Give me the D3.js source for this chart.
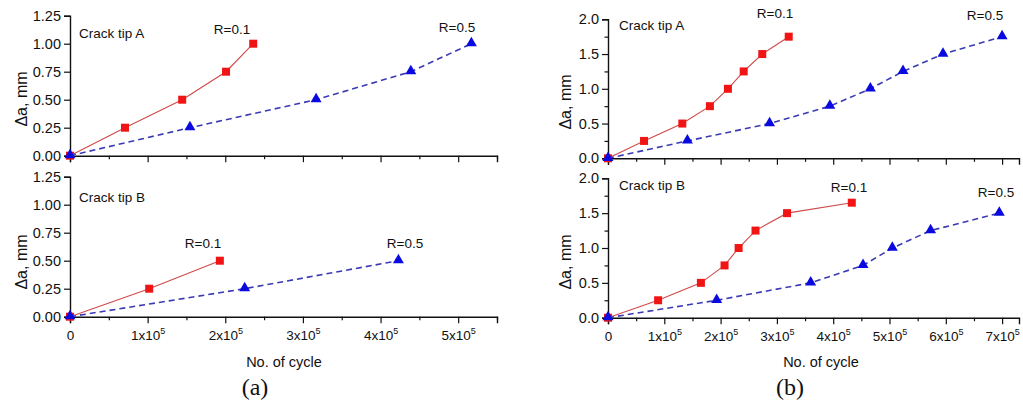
<!DOCTYPE html>
<html>
<head>
<meta charset="utf-8">
<script src="https://cdn.jsdelivr.net/npm/d3@7"></script>
<style>
  html, body { margin: 0; padding: 0; background: #fff; }
  svg { display: block; }
  text { font-family: Arial, "Liberation Sans", sans-serif; fill: #111; }
  text.caption { font-family: "Liberation Serif", "Times New Roman", serif; }
</style>
</head>
<body>
<svg id="chart" width="1023" height="412"></svg>
<script>
// ---- data: crack extension (mm) versus number of cycles ----
// (a) crack tip A
const aTipA_R01_cycles = [0, 70800, 144500, 201000, 236000];
const aTipA_R01_da     = [0, 0.25, 0.50, 0.75, 1.00];
const aTipA_R05_cycles = [0, 154500, 317000, 439000, 517000];
const aTipA_R05_da     = [0, 0.25, 0.50, 0.75, 1.00];
// (a) crack tip B
const aTipB_R01_cycles = [0, 102000, 193000];
const aTipB_R01_da     = [0, 0.25, 0.50];
const aTipB_R05_cycles = [0, 225000, 423000];
const aTipB_R05_da     = [0, 0.25, 0.50];
// (b) crack tip A
const bTipA_R01_cycles = [0, 64000, 132000, 181000, 213000, 241000, 274000, 321000];
const bTipA_R01_da     = [0, 0.25, 0.50, 0.75, 1.00, 1.25, 1.50, 1.75];
const bTipA_R05_cycles = [0, 141000, 287000, 394000, 466000, 524000, 595000, 700000];
const bTipA_R05_da     = [0, 0.25, 0.50, 0.75, 1.00, 1.25, 1.50, 1.75];
// (b) crack tip B
const bTipB_R01_cycles = [0, 89000, 165000, 207000, 232000, 262000, 318000, 433000];
const bTipB_R01_da     = [0, 0.25, 0.50, 0.75, 1.00, 1.25, 1.50, 1.65];
const bTipB_R05_cycles = [0, 193000, 360000, 453000, 505000, 573000, 695000];
const bTipB_R05_da     = [0, 0.25, 0.50, 0.75, 1.00, 1.25, 1.50];

// axis ticks
const aYTicks = [0, 0.25, 0.5, 0.75, 1.0, 1.25];
const bYTicks = [0, 0.5, 1.0, 1.5, 2.0];
const bYMinor = [0.25, 0.75, 1.25, 1.75];
const aXTicks = [0, 1e5, 2e5, 3e5, 4e5, 5e5];
const bXTicks = [0, 1e5, 2e5, 3e5, 4e5, 5e5, 6e5, 7e5];
const aXMinor = [0.5e5, 1.5e5, 2.5e5, 3.5e5, 4.5e5, 5.5e5];
const bXMinor = [0.5e5, 1.5e5, 2.5e5, 3.5e5, 4.5e5, 5.5e5, 6.5e5];

// series labels and panel titles
const tipNames = ["Crack tip A", "Crack tip B"];
const seriesNames = ["R=0.1", "R=0.5"];
const yTitle = "\u0394a, mm";
const xTitle = "No. of cycle";
const subCaptions = ["(a)", "(b)"];

const zip = (xs, ys) => xs.map((x, i) => ({ x, y: ys[i] }));

// ---- panel layout ----
const panels = [
  { x0: 70, x1: 497, yTop: 15.7, yBot: 155.7, xMax: 5.5e5, yMax: 1.25,
    xTicks: aXTicks, xMinor: aXMinor, yTicks: aYTicks, yMinor: [], yFmt: d3.format(".2f"),
    showXLabels: false, title: tipNames[0], titlePos: [79, 38],
    s1: zip(aTipA_R01_cycles, aTipA_R01_da), s2: zip(aTipA_R05_cycles, aTipA_R05_da),
    l1: [232, 34], l2: [457, 32], yLab: [21, 99] },
  { x0: 70, x1: 497, yTop: 176.7, yBot: 316.7, xMax: 5.5e5, yMax: 1.25,
    xTicks: aXTicks, xMinor: aXMinor, yTicks: aYTicks, yMinor: [], yFmt: d3.format(".2f"),
    showXLabels: true, title: tipNames[1], titlePos: [79, 202],
    s1: zip(aTipB_R01_cycles, aTipB_R01_da), s2: zip(aTipB_R05_cycles, aTipB_R05_da),
    l1: [203, 248], l2: [405, 248], yLab: [21, 262] },
  { x0: 608, x1: 1019, yTop: 19.3, yBot: 158.3, xMax: 7.3e5, yMax: 2.0,
    xTicks: bXTicks, xMinor: bXMinor, yTicks: bYTicks, yMinor: bYMinor, yFmt: d3.format(".1f"),
    showXLabels: false, title: tipNames[0], titlePos: [619, 30],
    s1: zip(bTipA_R01_cycles, bTipA_R01_da), s2: zip(bTipA_R05_cycles, bTipA_R05_da),
    l1: [775, 18], l2: [985, 20], yLab: [565, 102] },
  { x0: 608, x1: 1019, yTop: 178.3, yBot: 317.7, xMax: 7.3e5, yMax: 2.0,
    xTicks: bXTicks, xMinor: bXMinor, yTicks: bYTicks, yMinor: bYMinor, yFmt: d3.format(".1f"),
    showXLabels: true, title: tipNames[1], titlePos: [619, 190],
    s1: zip(bTipB_R01_cycles, bTipB_R01_da), s2: zip(bTipB_R05_cycles, bTipB_R05_da),
    l1: [849, 192], l2: [996, 197], yLab: [565, 262] }
];

const RED_LINE = "#cf4a4a", RED_MARK = "#f01414";
const BLUE_LINE = "#3a3ab4", BLUE_MARK = "#0a0ae0";

const svg = d3.select("#chart");

panels.forEach(p => {
  const x = d3.scaleLinear().domain([0, p.xMax]).range([p.x0, p.x1]);
  const y = d3.scaleLinear().domain([0, p.yMax]).range([p.yBot, p.yTop]);
  const g = svg.append("g");

  // minor ticks
  g.append("g").attr("transform", `translate(0,${p.yBot})`)
    .call(d3.axisBottom(x).tickValues(p.xMinor).tickSize(3.5).tickFormat(""))
    .call(a => a.select(".domain").remove());
  if (p.yMinor.length) {
    g.append("g").attr("transform", `translate(${p.x0},0)`)
      .call(d3.axisLeft(y).tickValues(p.yMinor).tickSize(3.5).tickFormat(""))
      .call(a => a.select(".domain").remove());
  }

  // major x axis
  const xa = g.append("g").attr("transform", `translate(0,${p.yBot})`)
    .call(d3.axisBottom(x).tickValues(p.xTicks).tickSizeOuter(0).tickSize(6.5).tickPadding(5));
  xa.selectAll(".tick text").each(function (d) {
    const t = d3.select(this);
    t.text(null).attr("font-size", 13.5).attr("dy", "0.9em");
    if (!p.showXLabels) return;
    if (d === 0) { t.text("0"); return; }
    t.append("tspan").text(`${d / 1e5}x10`);
    t.append("tspan").attr("dy", -6).attr("font-size", 9).text("5");
  });

  // major y axis
  g.append("g").attr("transform", `translate(${p.x0},0)`)
    .call(d3.axisLeft(y).tickValues(p.yTicks).tickSizeOuter(0).tickSize(6).tickPadding(3).tickFormat(p.yFmt))
    .call(a => a.selectAll(".tick text").attr("font-size", 14.5));

  g.selectAll(".domain").attr("stroke", "#111").attr("stroke-width", 1.4);
  g.selectAll(".tick line").attr("stroke", "#111").attr("stroke-width", 1.2);

  // series lines
  const line = d3.line().x(d => x(d.x)).y(d => y(d.y));
  g.append("path").datum(p.s1).attr("d", line)
    .attr("fill", "none").attr("stroke", RED_LINE).attr("stroke-width", 1.1);
  g.append("path").datum(p.s2).attr("d", line)
    .attr("fill", "none").attr("stroke", BLUE_LINE).attr("stroke-width", 1.6)
    .attr("stroke-dasharray", "6,4");

  // markers
  const sq = d3.symbol().type(d3.symbolSquare).size(64);
  const tri = d3.symbol().type(d3.symbolTriangle).size(52);
  g.selectAll(".sq").data(p.s1).join("path")
    .attr("d", sq).attr("transform", d => `translate(${x(d.x)},${y(d.y)})`)
    .attr("fill", RED_MARK);
  g.selectAll(".tri").data(p.s2).join("path")
    .attr("d", tri).attr("transform", d => `translate(${x(d.x)},${y(d.y) - 0.5})`)
    .attr("fill", BLUE_MARK);

  // annotations
  g.append("text").attr("x", p.titlePos[0]).attr("y", p.titlePos[1])
    .attr("font-size", 13.5).text(p.title);
  g.append("text").attr("x", p.l1[0]).attr("y", p.l1[1]).attr("text-anchor", "middle")
    .attr("font-size", 13.5).text(seriesNames[0]);
  g.append("text").attr("x", p.l2[0]).attr("y", p.l2[1]).attr("text-anchor", "middle")
    .attr("font-size", 13.5).text(seriesNames[1]);

  // y title
  g.append("text")
    .attr("transform", `translate(${p.yLab[0] + 6},${p.yLab[1]}) rotate(-90)`)
    .attr("text-anchor", "middle").attr("font-size", 16).text(yTitle);
});

// x titles and sub-captions
const xTitleCenters = [284, 821];
const captionCenters = [255, 790];
xTitleCenters.forEach(cx => {
  svg.append("text").attr("x", cx).attr("y", 367).attr("text-anchor", "middle")
    .attr("font-size", 14.5).text(xTitle);
});
captionCenters.forEach((cx, i) => {
  svg.append("text").attr("class", "caption").attr("x", cx).attr("y", 395)
    .attr("text-anchor", "middle").attr("font-size", 24).text(subCaptions[i]);
});
</script>
</body>
</html>
